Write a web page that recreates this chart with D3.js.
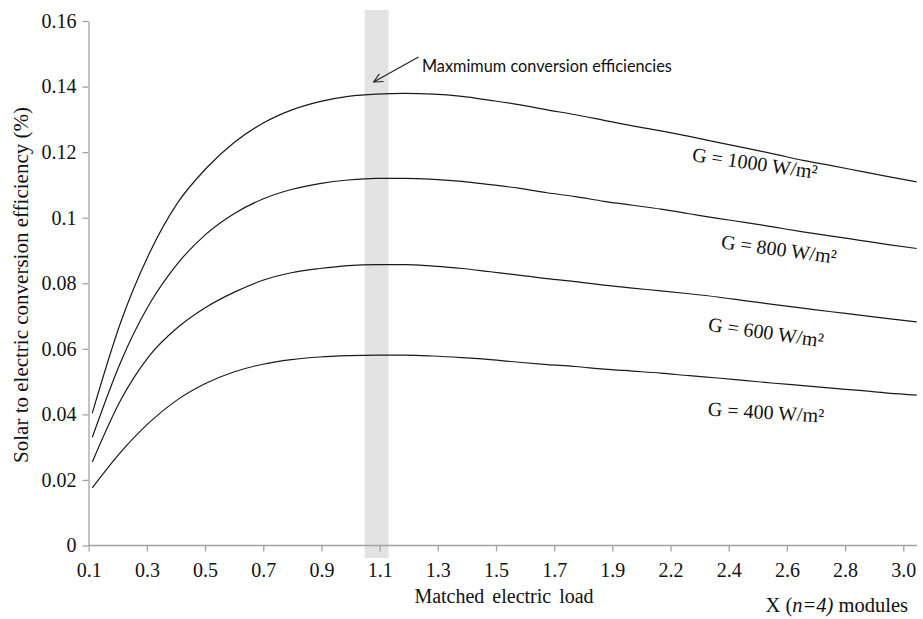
<!DOCTYPE html>
<html>
<head>
<meta charset="utf-8">
<script src="https://cdn.jsdelivr.net/npm/d3@7/dist/d3.min.js"></script>
<style>
  html, body { margin: 0; padding: 0; background: #fff; }
  svg { display: block; }
</style>
</head>
<body>
<svg id="chart" width="923" height="619"></svg>
<script>
// Matched electric load, X (n=4) modules
const loads = ["0.1","0.2","0.3","0.4","0.5","0.6","0.7","0.8","0.9","1.0",
               "1.1","1.2","1.3","1.4","1.5","1.6","1.7","1.8","1.9","2.0",
               "2.1","2.2","2.3","2.4","2.5","2.6","2.7","2.8","2.9","3.0"];

// Solar to electric conversion efficiency for each irradiance level
const g1000 = [0.0404,0.0681,0.0890,0.1045,0.1150,0.1230,0.1288,0.1328,0.1354,0.1370,
               0.1377,0.1379,0.1377,0.1370,0.1358,0.1345,0.1329,0.1314,0.1297,0.1280,
               0.1265,0.1248,0.1230,0.1212,0.1194,0.1175,0.1159,0.1142,0.1125,0.1109];
const g800  = [0.0330,0.0560,0.0735,0.0860,0.0950,0.1013,0.1057,0.1086,0.1104,0.1115,
               0.1120,0.1120,0.1117,0.1111,0.1101,0.1090,0.1076,0.1064,0.1050,0.1038,
               0.1026,0.1012,0.0998,0.0985,0.0971,0.0957,0.0944,0.0931,0.0918,0.0906];
const g600  = [0.0255,0.0444,0.0578,0.0665,0.0727,0.0773,0.0809,0.0832,0.0845,0.0854,
               0.0857,0.0857,0.0852,0.0845,0.0835,0.0825,0.0814,0.0805,0.0794,0.0785,
               0.0777,0.0768,0.0758,0.0746,0.0735,0.0724,0.0713,0.0703,0.0692,0.0682];
const g400  = [0.0176,0.0285,0.0375,0.0445,0.0495,0.0530,0.0553,0.0567,0.0575,0.0579,
               0.0581,0.0581,0.0578,0.0573,0.0567,0.0559,0.0552,0.0546,0.0538,0.0532,
               0.0526,0.0518,0.0511,0.0503,0.0495,0.0488,0.0480,0.0473,0.0465,0.0459];

const seriesLabels = ["G = 1000 W/m²", "G = 800 W/m²", "G = 600 W/m²", "G = 400 W/m²"];

// Category axis labels and value axis ticks
const xTickLabels = ["0.1","0.3","0.5","0.7","0.9","1.1","1.3","1.5","1.7","1.9",
                     "2.2","2.4","2.6","2.8","3.0"];
const yTicks = [0, 0.02, 0.04, 0.06, 0.08, 0.1, 0.12, 0.14, 0.16];

const peakLoad = "1.1";
const annotation = "Maxmimum conversion efficiencies";

const SERIF = "'Liberation Serif', 'DejaVu Serif', serif";
const svg = d3.select("#chart");
const axisColor = "#a3a3a3";

const y = d3.scaleLinear().domain([0, 0.16]).range([545.5, 21]);
const x = d3.scalePoint().domain(loads).range([92.3, 916.7]);
const xAxisScale = d3.scalePoint().domain(xTickLabels).range([88.7, 903.3]);

// Highlight band around the maximum
svg.append("rect")
  .attr("x", x(peakLoad) - x.step() * 0.42)
  .attr("width", x.step() * 0.84)
  .attr("y", 10)
  .attr("height", 558 - 10)
  .attr("fill", "#e3e3e3");

// Y axis
const yAxis = svg.append("g")
  .attr("transform", "translate(88.5,0)")
  .call(d3.axisLeft(y).tickValues(yTicks).tickSize(6).tickSizeOuter(0).tickPadding(6)
          .tickFormat(d => String(+d.toFixed(2))));
yAxis.select(".domain").attr("stroke", axisColor).attr("stroke-width", 1.3);
yAxis.selectAll(".tick line").attr("stroke", axisColor).attr("stroke-width", 1.3);
yAxis.selectAll(".tick text")
  .style("font-family", SERIF)
  .style("font-size", "20px")
  .attr("fill", "#111");

// X axis
const xAxis = svg.append("g")
  .attr("transform", "translate(0,545.5)")
  .call(d3.axisBottom(xAxisScale).tickSize(6).tickSizeOuter(0).tickPadding(11));
xAxis.select(".domain").remove();
xAxis.selectAll(".tick line").attr("stroke", axisColor).attr("stroke-width", 1.3);
xAxis.selectAll(".tick text")
  .style("font-family", SERIF)
  .style("font-size", "20px")
  .attr("fill", "#111");
svg.append("line")
  .attr("x1", 88.5).attr("x2", 917)
  .attr("y1", 545.5).attr("y2", 545.5)
  .attr("stroke", axisColor).attr("stroke-width", 1.3);

// Efficiency curves
const line = d3.line()
  .x((d, i) => x(loads[i]))
  .y(d => y(d))
  .curve(d3.curveMonotoneX);

[g1000, g800, g600, g400].forEach(s => {
  svg.append("path")
    .datum(s)
    .attr("d", line)
    .attr("fill", "none")
    .attr("stroke", "#1a1a1a")
    .attr("stroke-width", 1.2);
});

// Curve labels
const labelPlacement = [
  { cx: 755, cy: 163, angle: 8.2 },
  { cx: 779, cy: 249, angle: 7.6 },
  { cx: 766, cy: 332, angle: 8.2 },
  { cx: 766, cy: 412, angle: 3.4 }
];
seriesLabels.forEach((t, i) => {
  const p = labelPlacement[i];
  svg.append("text")
    .style("font-family", SERIF)
    .style("font-size", "20px")
    .attr("fill", "#111")
    .attr("text-anchor", "middle")
    .attr("dominant-baseline", "central")
    .attr("transform", `translate(${p.cx},${p.cy}) rotate(${p.angle})`)
    .text(t);
});

// Annotation arrow pointing at the band
const tipX = x(peakLoad) - 3, tipY = y(0.14) - 4.5;
const tailX = 418.5, tailY = 57;
svg.append("line")
  .attr("x1", tailX).attr("y1", tailY)
  .attr("x2", tipX).attr("y2", tipY)
  .attr("stroke", "#222").attr("stroke-width", 1.1);
const ang = Math.atan2(tailY - tipY, tailX - tipX);
[0.45, -0.45].forEach(da => {
  svg.append("line")
    .attr("x1", tipX).attr("y1", tipY)
    .attr("x2", tipX + 10 * Math.cos(ang + da))
    .attr("y2", tipY + 10 * Math.sin(ang + da))
    .attr("stroke", "#222").attr("stroke-width", 1.1);
});
svg.append("text")
  .attr("x", 422)
  .attr("y", 72)
  .style("font-family", "Lato, 'Open Sans', sans-serif")
  .style("font-size", "16.3px")
  .attr("fill", "#111")
  .text(annotation);

// Axis titles
svg.append("text")
  .style("font-family", SERIF)
  .style("font-size", "21px")
  .attr("fill", "#111")
  .attr("text-anchor", "middle")
  .attr("transform", "translate(28,285) rotate(-90)")
  .text("Solar to electric conversion efficiency (%)");

svg.append("text")
  .style("font-family", SERIF)
  .style("font-size", "20px")
  .style("word-spacing", "3px")
  .attr("fill", "#111")
  .attr("text-anchor", "middle")
  .attr("x", 504)
  .attr("y", 603)
  .text("Matched electric load");

const xt = svg.append("text")
  .style("font-family", SERIF)
  .style("font-size", "20.5px")
  .attr("fill", "#111")
  .attr("text-anchor", "end")
  .attr("x", 908)
  .attr("y", 612);
xt.append("tspan").text("X (");
xt.append("tspan").style("font-style", "italic").text("n=4)");
xt.append("tspan").text(" modules");
</script>
</body>
</html>
